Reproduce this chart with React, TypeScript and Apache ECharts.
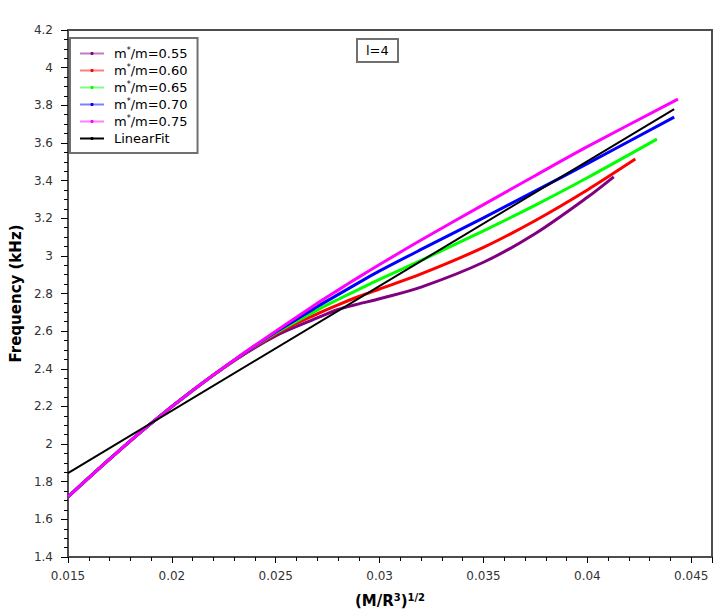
import React, { useEffect, useRef } from "react";
import * as echarts from "echarts";

// ---- data ----
const seriesNames = ["m*/m=0.55", "m*/m=0.60", "m*/m=0.65", "m*/m=0.70", "m*/m=0.75"];
const seriesColors = ["#800080", "#ff0000", "#00ff00", "#0000ff", "#ff00ff"];

const x055 = [0.015, 0.017, 0.019, 0.021, 0.023, 0.025, 0.027, 0.028, 0.029, 0.03, 0.032, 0.035, 0.0375, 0.04, 0.04127];
const y055 = [1.72, 1.92, 2.11, 2.285, 2.443, 2.575, 2.67, 2.715, 2.745, 2.772, 2.834, 2.966, 3.119, 3.311, 3.42];

const x060 = [0.015, 0.017, 0.019, 0.021, 0.023, 0.025, 0.027, 0.028, 0.029, 0.03, 0.032, 0.035, 0.0375, 0.04, 0.04231];
const y060 = [1.72, 1.92, 2.11, 2.285, 2.444, 2.585, 2.692, 2.74, 2.784, 2.824, 2.904, 3.045, 3.188, 3.35, 3.514];

const x065 = [0.015, 0.017, 0.019, 0.021, 0.023, 0.025, 0.027, 0.028, 0.029, 0.03, 0.032, 0.035, 0.0375, 0.04, 0.04335];
const y065 = [1.72, 1.92, 2.11, 2.285, 2.445, 2.59, 2.712, 2.768, 2.822, 2.875, 2.976, 3.133, 3.27, 3.415, 3.62];

const x070 = [0.015, 0.017, 0.019, 0.021, 0.023, 0.025, 0.027, 0.028, 0.029, 0.03, 0.032, 0.035, 0.0375, 0.04, 0.04418];
const y070 = [1.72, 1.92, 2.11, 2.285, 2.446, 2.595, 2.73, 2.794, 2.858, 2.92, 3.034, 3.202, 3.345, 3.49, 3.737];

const x075 = [0.015, 0.017, 0.019, 0.021, 0.023, 0.025, 0.027, 0.028, 0.029, 0.03, 0.032, 0.035, 0.0375, 0.04, 0.04436];
const y075 = [1.72, 1.92, 2.11, 2.285, 2.447, 2.6, 2.748, 2.818, 2.887, 2.954, 3.084, 3.272, 3.427, 3.58, 3.833];

const fitX = [0.015, 0.04418];
const fitY = [1.846, 3.78];

const xTicks = { min: 0.015, max: 0.046, interval: 0.005 };
const yTicks = { min: 1.4, max: 4.2, interval: 0.2 };

const curveX = [x055, x060, x065, x070, x075];
const curveY = [y055, y060, y065, y070, y075];

const FONT = "DejaVu Sans";

function pairs(xs: number[], ys: number[]) {
  return xs.map((x, i) => [x, ys[i]]);
}

export default function App() {
  const ref = useRef<HTMLDivElement>(null);
  useEffect(() => {
    if (!ref.current) return;
    const chart = echarts.init(ref.current, undefined, { renderer: "svg" });

    const curveSeries = seriesNames.map((name, i) => ({
      name,
      type: "line",
      data: pairs(curveX[i], curveY[i]),
      symbol: "circle",
      symbolSize: 3,
      showSymbol: false,
      smooth: 0.3,
      lineStyle: { color: seriesColors[i], width: 3 },
      itemStyle: { color: seriesColors[i] },
      z: 2 + i,
    }));

    const option: any = {
      animation: false,
      backgroundColor: "#ffffff",
      textStyle: { fontFamily: FONT },
      title: {
        text: "l=4",
        left: 357,
        top: 39,
        borderColor: "#707070",
        borderWidth: 2,
        padding: [5, 9, 5, 9],
        textStyle: { fontFamily: FONT, fontSize: 13, fontWeight: "normal", color: "#000" },
      },
      legend: {
        orient: "vertical",
        left: 70,
        top: 38,
        padding: [8, 10, 7, 9],
        itemWidth: 24,
        itemHeight: 4,
        itemGap: 2,
        borderColor: "#707070",
        borderWidth: 2,
        backgroundColor: "#fff",
        selectedMode: false,
        data: [
          ...seriesNames.map((n) => ({ name: n, lineStyle: { opacity: 0.5 } })),
          { name: "LinearFit", lineStyle: { opacity: 1, width: 2 } },
        ],
        formatter: (name: string) => name.replace("*", "{sup|*}"),
        textStyle: {
          fontFamily: FONT,
          fontSize: 13,
          lineHeight: 15,
          color: "#000",
          padding: [0, 0, 0, 5],
          rich: {
            sup: { fontFamily: FONT, fontSize: 8, lineHeight: 8, verticalAlign: "top", color: "#000" },
          },
        },
      },
      grid: {
        left: 65,
        right: 6,
        top: 30,
        bottom: 59,
        show: true,
        borderColor: "#4d4d4d",
        borderWidth: 2,
        containLabel: false,
      },
      xAxis: {
        type: "value",
        min: xTicks.min,
        max: xTicks.max,
        interval: xTicks.interval,
        name: "(M/R{sup|3}){sup|1/2}",
        nameLocation: "middle",
        nameGap: 35,
        nameTextStyle: {
          fontFamily: FONT,
          fontSize: 15,
          fontWeight: "bold",
          color: "#000",
          lineHeight: 18,
          rich: {
            sup: { fontFamily: FONT, fontSize: 10, fontWeight: "bold", lineHeight: 10, verticalAlign: "top", color: "#000" },
          },
        },
        axisLine: { show: true, onZero: false, lineStyle: { color: "#4d4d4d", width: 2 } },
        axisTick: { show: true, inside: false, length: 6, lineStyle: { color: "#000", width: 1 } },
        minorTick: { show: true, splitNumber: 5, length: 4, lineStyle: { color: "#000", width: 1 } },
        splitLine: { show: false },
        axisLabel: { showMaxLabel: false, margin: 13, fontFamily: FONT, fontSize: 12, color: "#333" },
      },
      yAxis: {
        type: "value",
        min: yTicks.min,
        max: yTicks.max,
        interval: yTicks.interval,
        name: "Frequency (kHz)",
        nameLocation: "middle",
        nameRotate: 90,
        nameGap: 40,
        nameTextStyle: { fontFamily: FONT, fontSize: 15, fontWeight: "bold", color: "#000" },
        axisLine: { show: true, onZero: false, lineStyle: { color: "#4d4d4d", width: 2 } },
        axisTick: { show: true, inside: false, length: 7, lineStyle: { color: "#000", width: 1 } },
        minorTick: { show: true, splitNumber: 4, length: 4, lineStyle: { color: "#000", width: 1 } },
        splitLine: { show: false },
        axisLabel: { margin: 15, fontFamily: FONT, fontSize: 12, color: "#333" },
      },
      series: [
        ...curveSeries,
        {
          name: "LinearFit",
          type: "line",
          data: pairs(fitX, fitY),
          symbol: "none",
          lineStyle: { color: "#000", width: 2 },
          itemStyle: { color: "#000" },
          z: 10,
        },
      ],
    };
    chart.setOption(option);
    return () => chart.dispose();
  }, []);
  return (
    <div
      ref={ref}
      style={{ position: "fixed", left: 0, top: 0, width: 718, height: 616, background: "#fff" }}
    />
  );
}
